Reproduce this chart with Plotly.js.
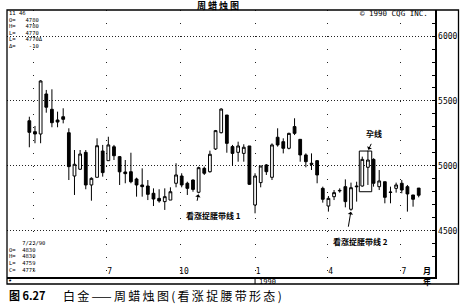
<!DOCTYPE html>
<html>
<head>
<meta charset="utf-8">
<script src="https://cdn.plot.ly/plotly-3.0.1.min.js"></script>
<style>html,body{margin:0;padding:0;background:#fff;}#chart{width:465px;height:304px;}</style>
</head>
<body>
<div id="chart"></div>
<script>
// Weekly bars (week starting dates)
const weeks = [
 '1989-03-27','1989-04-03','1989-04-10','1989-04-17','1989-04-24','1989-05-01','1989-05-08','1989-05-15','1989-05-22','1989-05-29',
 '1989-06-05','1989-06-12','1989-06-19','1989-06-26','1989-07-03','1989-07-10','1989-07-17','1989-07-24','1989-07-31','1989-08-07',
 '1989-08-14','1989-08-21','1989-08-28','1989-09-04','1989-09-11','1989-09-18','1989-09-25','1989-10-02','1989-10-09','1989-10-16',
 '1989-10-23','1989-10-30','1989-11-06','1989-11-13','1989-11-20','1989-11-27','1989-12-04','1989-12-11','1989-12-18','1989-12-25',
 '1990-01-01','1990-01-08','1990-01-15','1990-01-22','1990-01-29','1990-02-05','1990-02-12','1990-02-19','1990-02-26','1990-03-05',
 '1990-03-12','1990-03-19','1990-03-26','1990-04-02','1990-04-09','1990-04-16','1990-04-23','1990-04-30','1990-05-07','1990-05-14',
 '1990-05-21','1990-05-28','1990-06-04','1990-06-11','1990-06-18','1990-06-25','1990-07-02','1990-07-09','1990-07-16','1990-07-23'
];
const opens = [
 5348,5264,5246,5554,5436,5354,5379,5256,4923,4975,
 5105,4854,4913,5115,5041,5148,5072,4954,4956,4900,
 4854,4846,4790,4751,4726,4738,4867,4923,4867,4892,
 4798,4982,4956,5131,5256,5392,5149,5105,5097,5154,
 4700,4872,5008,4913,5221,5187,5136,5303,5205,5085,
 5021,5041,4828,4692,4764,4808,4841,4667,4846,4846,
 4990,5051,4841,4879,4800,4828,4867,4841,4777,4830
];
const highs = [
 5379,5308,5660,5585,5590,5418,5444,5290,5123,5123,
 5123,4913,5213,5162,5225,5162,5077,5046,5102,4910,
 4982,4892,4828,4821,4828,4836,5021,4944,4879,4897,
 4995,4995,5118,5277,5444,5392,5162,5187,5167,5154,
 4944,5000,5015,5174,5290,5213,5256,5367,5205,5097,
 5097,5046,4841,4769,4815,4828,4897,4872,4879,5072,
 5118,5059,4969,4879,4841,4872,4892,4854,4777,4830
];
const lows = [
 5144,5175,5175,5410,5298,5298,5328,4892,4777,4969,
 4821,4733,4913,4918,5041,5046,4854,4867,4867,4764,
 4764,4738,4692,4718,4662,4738,4836,4836,4777,4802,
 4790,4931,4949,5123,5251,5102,5000,5033,5033,4854,
 4636,4836,4931,4892,5149,5097,5128,5238,5033,4990,
 4969,4867,4718,4649,4738,4795,4682,4656,4726,4841,
 4854,4841,4815,4713,4713,4795,4790,4649,4687,4759
];
const closes = [
 5259,5246,5654,5452,5333,5338,5359,4995,5013,5092,
 4854,4905,5156,4949,5162,5079,4955,4941,4879,4854,
 4841,4782,4746,4731,4764,4802,4931,4854,4828,4820,
 4987,4944,5090,5272,5438,5174,5097,5154,5144,4859,
 4923,5000,4956,5162,5162,5136,5251,5251,5085,5033,
 5013,4931,4744,4751,4795,4812,4726,4833,4841,5051,
 5046,4867,4885,4759,4797,4854,4815,4785,4744,4775
];
// Axis ticks
const monthTickDates = ['1989-04-01','1989-07-01','1989-10-01','1990-01-01','1990-04-01','1990-07-01'];
const monthTickText  = ['', '7', '10', '1', '4', '7'];
const priceTickStep = 500;
// Readout panels
const cursorLines = ['11 46', 'O=   4780', 'H=   4780', 'L=   4770', 'L=   4770Δ', 'Δ=    -10'];
const lastBarLines = ['    7/23/90', 'O=  4830', 'H=  4830', 'L=  4759', 'C=  4775'];

// pixel helpers for text placement (plot area: x 7..435, y 10..277)
const PL = 7, PR = 435, PT = 10, PB = 277;
const px = x => (x - PL) / (PR - PL);
const py = y => (PB - y) / (PB - PT);
const mono = 'DejaVu Sans Mono, Liberation Mono, monospace';
const cjk = 'Noto Sans CJK SC, Noto Sans, sans-serif';

const DAY = 86400000;
const tms = s => new Date(s + 'T00:00:00Z').getTime();
const iso = t => new Date(t).toISOString().slice(0, 19).replace('T', ' ');

const trace = {
  type: 'candlestick',
  x: weeks, open: opens, high: highs, low: lows, close: closes,
  increasing: {line: {color: '#000', width: 1}, fillcolor: '#ffffff'},
  decreasing: {line: {color: '#000', width: 1}, fillcolor: '#000000'},
  whiskerwidth: 0,
  hoverinfo: 'skip'
};

function txt(x, y, t, size, anchor, font, extra) {
  return Object.assign({
    xref: 'paper', yref: 'paper', x: px(x), y: py(y), text: t, showarrow: false,
    xanchor: anchor || 'left', yanchor: 'middle',
    font: {family: font || mono, size: size, color: '#000'}
  }, extra || {});
}
// one small text per readout line, evenly stepped
function block(x, yTop, yBottom, lines, size) {
  const step = (yBottom - yTop) / (lines.length - 1);
  return lines.map((l, i) => txt(x, yTop + i * step, l, size));
}

const annotations = [
  ...block(7, 13.3, 46, cursorLines, 5.5),
  txt(430, 13.5, '© 1990 CQG INC.', 7.5, 'right'),
  ...block(7, 243, 269.5, lastBarLines, 5.5),
  txt(6, 281, '•', 7),
  txt(426.5, 270, '<b>月</b>', 8, 'center', cjk),
  txt(426.5, 281.5, '<b>年</b>', 8, 'center', cjk),
  txt(256.5, 281.5, '1990', 7, 'left'),
  txt(219, 5.7, '<b><span style="letter-spacing:2px">周蜡烛图</span></b>', 9, 'center', cjk),
  txt(213.5, 215.5, '<b>看涨捉腰带线 1</b>', 8, 'center', cjk),
  txt(360, 241, '<b>看涨捉腰带线 2</b>', 8, 'center', cjk),
  txt(373.5, 133.5, '<b>孕线</b>', 8, 'center', cjk),
  txt(7, 295, '<b>图 6.27</b>', 11, 'left', cjk),
  txt(61, 295, '<span style="letter-spacing:2.3px">白金——周蜡烛图(看涨捉腰带形态)</span>', 12, 'left', cjk),
  // arrows
  {xref: 'x', yref: 'y', x: weeks[30], y: lows[30], text: ' ', showarrow: true,
   ax: -3.5, ay: 17.5, arrowhead: 1, arrowsize: 0.9, arrowwidth: 1, arrowcolor: '#000', standoff: 1},
  {xref: 'x', yref: 'y', x: weeks[57], y: lows[57], text: ' ', showarrow: true,
   ax: -4.3, ay: 26, arrowhead: 1, arrowsize: 0.9, arrowwidth: 1, arrowcolor: '#000', standoff: 1},
  {xref: 'x', yref: 'y', x: weeks[60], y: highs[60], text: ' ', showarrow: true,
   ax: 6.3, ay: -13, arrowhead: 1, arrowsize: 0.9, arrowwidth: 1, arrowcolor: '#000', standoff: 1}
];

const shapes = [
  // outer frame
  {type: 'rect', xref: 'paper', yref: 'paper', x0: 0, x1: px(458.5), y0: py(284), y1: 1,
   line: {color: '#000', width: 1.3}},
  // year separator below axis
  {type: 'line', xref: 'x', yref: 'paper', x0: '1990-01-01', x1: '1990-01-01', y0: 0, y1: py(284),
   line: {color: '#000', width: 1}},
  // harami box
  {type: 'rect', xref: 'x', yref: 'y',
   x0: iso(tms(weeks[59]) - 3.7 * DAY), x1: iso(tms(weeks[60]) + 4.7 * DAY),
   y0: 4802, y1: 5115, line: {color: '#000', width: 1}}
];

const layout = {
  width: 465, height: 304,
  margin: {l: PL, r: 465 - PR, t: PT, b: 304 - PB, pad: 0},
  paper_bgcolor: '#fff', plot_bgcolor: '#fff',
  showlegend: false,
  xaxis: {
    type: 'date',
    range: ['1989-02-27 07:00', '1990-08-12 05:00'],
    tickmode: 'array', tickvals: monthTickDates, ticktext: monthTickText,
    ticks: '', showgrid: true, gridcolor: '#222', gridwidth: 1, griddash: '1px,12px',
    showline: true, linecolor: '#000', linewidth: 1.5, mirror: false, zeroline: false,
    ticklabelposition: 'inside', ticklabelshift: 3,
    tickfont: {family: mono, size: 8, color: '#000'},
    rangeslider: {visible: false}, fixedrange: true
  },
  yaxis: {
    side: 'right', range: [4146, 6200],
    tick0: 0, dtick: priceTickStep,
    ticks: 'inside', ticklen: 3, tickcolor: '#000', tickwidth: 1,
    minor: {dtick: 100, ticks: 'inside', ticklen: 3, tickcolor: '#000', showgrid: false},
    showgrid: true, gridcolor: '#222', gridwidth: 1, griddash: '1px,2px',
    showline: true, linecolor: '#000', linewidth: 1.5, zeroline: false,
    tickfont: {family: mono, size: 8, color: '#000'},
    fixedrange: true
  },
  annotations: annotations,
  shapes: shapes
};

Plotly.newPlot('chart', [trace], layout, {staticPlot: true, displayModeBar: false});
</script>
</body>
</html>
